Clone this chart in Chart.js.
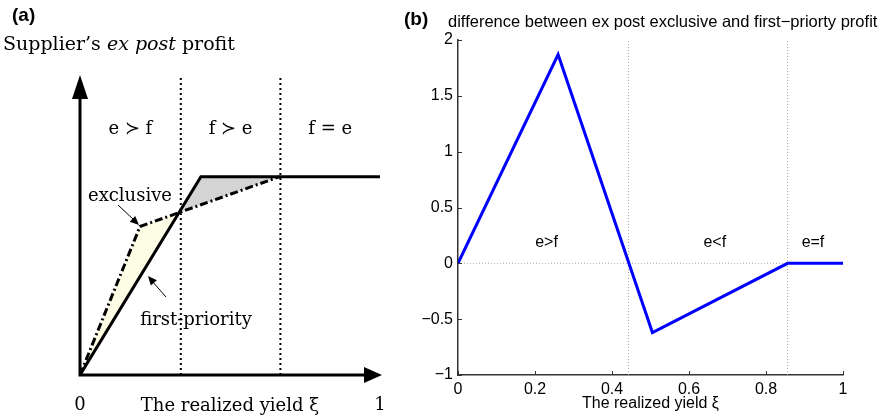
<!DOCTYPE html>
<html>
<head>
<meta charset="utf-8">
<script src="https://cdn.jsdelivr.net/npm/chart.js@4/dist/chart.umd.min.js"></script>
<style>
  body { margin: 0; background: #fff; }
  #wrap { position: relative; width: 883px; height: 417px; }
  #chartA { position: absolute; left: 0; top: 0; }
  #chartB { position: absolute; left: 400px; top: 0; }
</style>
</head>
<body>
<div id="wrap">
  <canvas id="chartA" width="400" height="417"></canvas>
  <canvas id="chartB" width="483" height="417"></canvas>
</div>
<script>
// Panel (a): schematic profits vs realized yield
const firstPriorityX = [0, 0.403, 1];
const firstPriorityY = [0, 0.661, 0.661];
const exclusiveX = [0, 0.2, 0.665];
const exclusiveY = [0, 0.495, 0.661];
const regionsA = [0.336, 0.668];
const regionLabelsA = ['e \u227B f', 'f \u227B e', 'f = e'];

// Panel (b): difference between exclusive and first-priority
const diffX = [0, 0.26, 0.505, 0.856, 1];
const diffY = [0, 1.87, -0.62, 0, 0];
const regionsB = [0.443, 0.856];
const regionLabelsB = ['e>f', 'e<f', 'e=f'];
const yTicksB = [-1, -0.5, 0, 0.5, 1, 1.5, 2];
const xTicksB = [0, 0.2, 0.4, 0.6, 0.8, 1];

function toXY(xs, ys) {
    return xs.map((x, i) => ({ x: x, y: ys[i] }));
}

const serif = '"DejaVu Serif", "Liberation Serif", serif';
const sans = '"Liberation Sans", Arial, sans-serif';

function arrowHead(ctx, x1, y1, x2, y2, len, half) {
    const a = Math.atan2(y2 - y1, x2 - x1);
    ctx.beginPath();
    ctx.moveTo(x2, y2);
    ctx.lineTo(x2 - len * Math.cos(a) + half * Math.sin(a), y2 - len * Math.sin(a) - half * Math.cos(a));
    ctx.lineTo(x2 - len * Math.cos(a) - half * Math.sin(a), y2 - len * Math.sin(a) + half * Math.cos(a));
    ctx.closePath();
    ctx.fill();
}

// axes, arrows and text for panel (a)
const schemePlugin = {
    id: 'scheme',
    beforeDatasetsDraw(chart) {
        const ctx = chart.ctx;
        const x = chart.scales.x, y = chart.scales.y;
        // dotted region boundaries
        ctx.save();
        ctx.strokeStyle = '#000';
        ctx.lineWidth = 2;
        ctx.setLineDash([2, 3]);
        regionsA.forEach(v => {
            ctx.beginPath();
            ctx.moveTo(x.getPixelForValue(v), y.getPixelForValue(0));
            ctx.lineTo(x.getPixelForValue(v), y.getPixelForValue(1));
            ctx.stroke();
        });
        ctx.restore();
    },
    afterDatasetsDraw(chart) {
        const ctx = chart.ctx;
        const x = chart.scales.x, y = chart.scales.y;
        const x0 = x.getPixelForValue(0), y0 = y.getPixelForValue(0);
        const x1 = x.getPixelForValue(1), y1 = y.getPixelForValue(1);
        ctx.save();
        ctx.fillStyle = '#000';
        ctx.strokeStyle = '#000';
        ctx.lineWidth = 3;
        ctx.beginPath();
        ctx.moveTo(x0, y1 + 18);
        ctx.lineTo(x0, y0);
        ctx.lineTo(x1 - 14, y0);
        ctx.stroke();
        arrowHead(ctx, x0, y0, x0, y1, 24, 8);
        arrowHead(ctx, x0, y0, x1 + 2, y0, 18, 8);

        // annotation arrows
        ctx.lineWidth = 1;
        ctx.beginPath();
        ctx.moveTo(118, 205);
        ctx.lineTo(134, 220);
        ctx.moveTo(166, 297);
        ctx.lineTo(152, 281);
        ctx.stroke();
        arrowHead(ctx, 118, 205, 139, 225, 9, 4);
        arrowHead(ctx, 166, 297, 148, 276, 9, 4);

        ctx.textBaseline = 'middle';
        ctx.textAlign = 'center';
        ctx.font = '18px ' + serif;
        const mids = [(0 + regionsA[0]) / 2, (regionsA[0] + regionsA[1]) / 2, (regionsA[1] + 1) / 2];
        regionLabelsA.forEach((t, i) => ctx.fillText(t, x.getPixelForValue(mids[i]), 129));
        ctx.fillText('exclusive', 130, 196);
        ctx.fillText('first-priority', 196, 320);
        ctx.fillText('0', x0, 405);
        ctx.fillText('1', x1, 405);
        ctx.fillText('The realized yield \u03BE', 230, 406);

        ctx.textAlign = 'left';
        ctx.font = '19px ' + serif;
        let tx = 3;
        ctx.fillText('Supplier\u2019s ', tx, 45);
        tx += ctx.measureText('Supplier\u2019s ').width;
        ctx.font = 'italic 19px ' + serif;
        ctx.fillText('ex post', tx, 45);
        tx += ctx.measureText('ex post ').width;
        ctx.font = '19px ' + serif;
        ctx.fillText('profit', tx, 45);

        ctx.font = 'bold 19px ' + sans;
        ctx.fillText('(a)', 12, 16);
        ctx.restore();
    }
};

const chartA = new Chart(document.getElementById('chartA'), {
    type: 'scatter',
    data: {
        datasets: [
            {
                label: 'first-priority',
                data: toXY(firstPriorityX, firstPriorityY),
                showLine: true,
                borderColor: '#000',
                borderWidth: 3,
                pointRadius: 0,
                fill: false
            },
            {
                label: 'exclusive',
                data: toXY(exclusiveX, exclusiveY),
                showLine: true,
                borderColor: '#000',
                borderWidth: 3,
                borderDash: [8, 3, 2, 3],
                pointRadius: 0,
                fill: { target: 0, above: '#fdfde6', below: '#d4d4d4' }
            }
        ]
    },
    options: {
        responsive: false,
        animation: false,
        layout: { padding: { left: 80, right: 20, top: 75, bottom: 42 } },
        plugins: { legend: { display: false }, tooltip: { enabled: false } },
        scales: {
            x: { type: 'linear', min: 0, max: 1, display: false },
            y: { type: 'linear', min: 0, max: 1, display: false }
        }
    },
    plugins: [schemePlugin]
});

// inward ticks, region labels and titles for panel (b)
const matlabPlugin = {
    id: 'matlab',
    afterDatasetsDraw(chart) {
        const ctx = chart.ctx;
        const x = chart.scales.x, y = chart.scales.y;
        const a = chart.chartArea;
        ctx.save();
        ctx.strokeStyle = '#333';
        ctx.lineWidth = 1;
        ctx.beginPath();
        yTicksB.forEach(v => {
            const py = Math.round(y.getPixelForValue(v)) + 0.5;
            ctx.moveTo(a.left, py);
            ctx.lineTo(a.left + 4, py);
        });
        xTicksB.forEach(v => {
            const px = Math.round(x.getPixelForValue(v)) + 0.5;
            ctx.moveTo(px, a.bottom);
            ctx.lineTo(px, a.bottom - 4);
        });
        ctx.stroke();

        ctx.fillStyle = '#000';
        ctx.textBaseline = 'middle';
        ctx.textAlign = 'center';
        ctx.font = '16px ' + sans;
        const mids = [0.23, 0.667, 0.922];
        regionLabelsB.forEach((t, i) => ctx.fillText(t, x.getPixelForValue(mids[i]), y.getPixelForValue(0.19)));
        ctx.fillText('The realized yield \u03BE', (a.left + a.right) / 2, 404);

        ctx.textAlign = 'left';
        ctx.font = '16.5px ' + sans;
        ctx.fillText('difference between ex post exclusive and first\u2212priorty profit', 48, 22);
        ctx.font = 'bold 19px ' + sans;
        ctx.fillText('(b)', 4, 20);
        ctx.restore();
    }
};

const chartB = new Chart(document.getElementById('chartB'), {
    type: 'scatter',
    data: {
        datasets: [
            {
                label: 'difference',
                data: toXY(diffX, diffY),
                showLine: true,
                borderColor: '#0000ff',
                borderWidth: 3,
                pointRadius: 0
            },
            {
                label: 'zero',
                data: [{ x: 0, y: 0 }, { x: 1, y: 0 }],
                showLine: true,
                borderColor: '#aaa',
                borderWidth: 1,
                borderDash: [1, 2],
                pointRadius: 0
            },
            ...regionsB.map(v => ({
                label: 'boundary',
                data: [{ x: v, y: -1 }, { x: v, y: 2 }],
                showLine: true,
                borderColor: '#aaa',
                borderWidth: 1,
                borderDash: [1, 2],
                pointRadius: 0
            }))
        ]
    },
    options: {
        responsive: false,
        animation: false,
        layout: { padding: { left: 0, right: 40, top: 40, bottom: 0 } },
        plugins: { legend: { display: false }, tooltip: { enabled: false } },
        scales: {
            x: {
                type: 'linear', min: 0, max: 1,
                afterFit(s) { s.height = 42; },
                afterBuildTicks(s) { s.ticks = xTicksB.map(v => ({ value: v })); },
                grid: { display: false, drawTicks: false },
                border: { display: true, color: '#333', width: 1.5 },
                ticks: { color: '#000', font: { family: sans, size: 16 }, padding: 5, maxRotation: 0,
                    callback: v => String(v) }
            },
            y: {
                type: 'linear', min: -1, max: 2,
                afterFit(s) { s.width = 58; },
                afterBuildTicks(s) { s.ticks = yTicksB.map(v => ({ value: v })); },
                grid: { display: false, drawTicks: false },
                border: { display: true, color: '#333', width: 1.5 },
                ticks: { color: '#000', font: { family: sans, size: 16 }, padding: 5,
                    callback: v => String(v).replace('-', '\u2212') }
            }
        }
    },
    plugins: [matlabPlugin]
});
</script>
</body>
</html>
